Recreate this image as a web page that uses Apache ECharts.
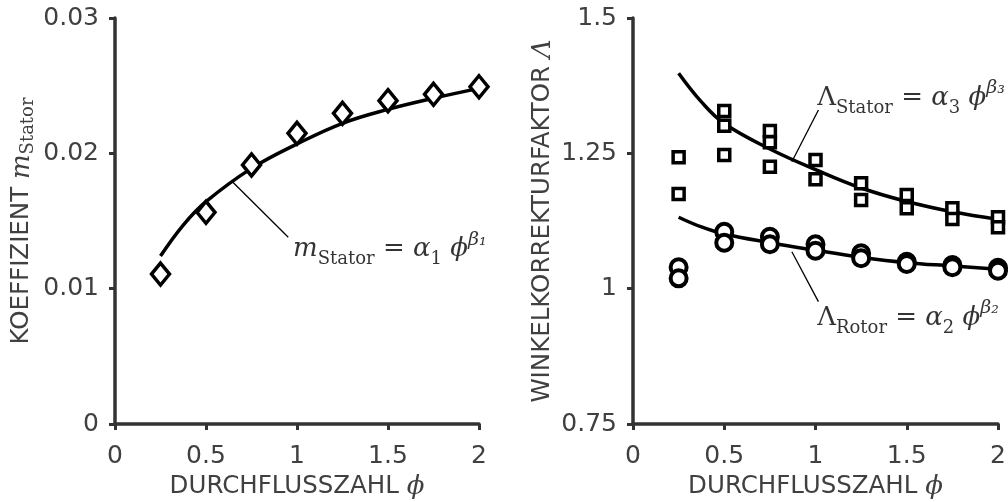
<!DOCTYPE html>
<html>
<head>
<meta charset="utf-8">
<script src="https://cdn.jsdelivr.net/npm/echarts@6/dist/echarts.min.js"></script>
<style>
  html, body { margin: 0; padding: 0; background: #fff; }
  #chart { width: 1008px; height: 502px; }
</style>
</head>
<body>
<div id="chart"></div>
<script>
  // Durchflusszahl (x values)
  const phi = [0.25, 0.5, 0.75, 1, 1.25, 1.5, 1.75, 2]
  const fitPhi = [0.25, 0.375, 0.5, 0.75, 1, 1.25, 1.5, 1.75, 2]

  // left: Koeffizient m_Stator
  const mStator = [0.01108, 0.01564, 0.01914, 0.02148, 0.02296, 0.02389, 0.02436, 0.02492]
  const mStatorFit = [0.01241, 0.0147, 0.01643, 0.01889, 0.02069, 0.02222, 0.02325, 0.02407, 0.0248]

  // right: Winkelkorrekturfaktor
  const statorPhi = [0.25, 0.25, 0.5, 0.5, 0.5, 0.75, 0.75, 0.75, 1, 1, 1.25, 1.25, 1.5, 1.5, 1.75, 1.75, 2, 2]
  const lambdaStator = [1.2427, 1.1749, 1.3282, 1.301, 1.2469, 1.2913, 1.2704, 1.2253, 1.2377, 1.202,
    1.1946, 1.1638, 1.173, 1.1485, 1.1485, 1.1287, 1.1318, 1.1134]
  const rotorPhi = [0.25, 0.25, 0.5, 0.5, 0.75, 0.75, 1, 1, 1.25, 1.25, 1.5, 1.5, 1.75, 1.75, 2, 2]
  const lambdaRotor = [1.0395, 1.0191, 1.1052, 1.0849, 1.096, 1.082, 1.082, 1.0701,
    1.0653, 1.0561, 1.0498, 1.0456, 1.0437, 1.0395, 1.0387, 1.0332]
  const lambdaStatorFit = [1.398, 1.345, 1.305, 1.258, 1.220, 1.186, 1.161, 1.142, 1.128]
  const lambdaRotorFit = [1.132, 1.114, 1.101, 1.085, 1.071, 1.058, 1.048, 1.042, 1.036]

  // annotations (data coords): leader lines and label anchors
  const leaderM = [[0.645, 0.0179], [0.952, 0.0138]]
  const leaderStator = [[0.8705, 1.2345], [1.016, 1.330]]
  const leaderRotor = [[0.8705, 1.0683], [1.016, 0.976]]
  const labelM = [0.978, 0.0129]
  const labelStator = [1.009, 1.3522]
  const labelRotor = [1.009, 0.9458]

  const xTicks = { min: 0, max: 2, interval: 0.5 }
  const yLeft = { min: 0, max: 0.03, interval: 0.01 }
  const yRight = { min: 0.75, max: 1.5, interval: 0.25 }

  const sans = 'DejaVu Sans'
  const serif = 'DejaVu Serif'
  const textColor = '#404040'
  const axisColor = '#333'

  const pairs = (xs, ys) => xs.map((x, i) => [x, ys[i]])

  const eqRich = {
    a: { fontFamily: serif, fontStyle: 'italic', fontSize: 26, lineHeight: 38, verticalAlign: 'middle', color: '#000' },
    u: { fontFamily: serif, fontSize: 26, lineHeight: 38, verticalAlign: 'middle', color: '#000' },
    s: { fontFamily: serif, fontSize: 18, lineHeight: 18, verticalAlign: 'bottom', color: '#000' },
    p: { fontFamily: serif, fontStyle: 'italic', fontSize: 19, lineHeight: 20, verticalAlign: 'top', color: '#000' }
  }

  const xAxisBase = (idx) => ({
    type: 'value', gridIndex: idx, min: xTicks.min, max: xTicks.max, interval: xTicks.interval,
    name: 'DURCHFLUSSZAHL {f|ϕ}', nameLocation: 'middle', nameGap: 47,
    nameTextStyle: { fontFamily: sans, fontSize: 24.5, color: textColor,
      rich: { f: { fontFamily: serif, fontStyle: 'italic', fontSize: 26, color: textColor } } },
    axisLine: { onZero: false, lineStyle: { color: axisColor, width: 3.5 } },
    axisTick: { show: true, length: 6, inside: false, lineStyle: { color: axisColor, width: 3 } },
    axisLabel: { fontFamily: sans, fontSize: 25, color: textColor, margin: 20 },
    splitLine: { show: false }
  })

  const yAxisBase = (idx, r) => ({
    type: 'value', gridIndex: idx, min: r.min, max: r.max, interval: r.interval,
    nameLocation: 'middle', nameRotate: 90,
    axisLine: { show: true, onZero: false, lineStyle: { color: axisColor, width: 3.5 } },
    axisTick: { show: true, length: 6, inside: false, lineStyle: { color: axisColor, width: 3 } },
    axisLabel: { fontFamily: sans, fontSize: 25, color: textColor, margin: 16 },
    splitLine: { show: false }
  })

  const yA = yAxisBase(0, yLeft)
  yA.name = 'KOEFFIZIENT {m|m}{s|Stator}'
  yA.nameGap = 78
  yA.nameTextStyle = { fontFamily: sans, fontSize: 24.5, color: textColor,
    rich: {
      m: { fontFamily: serif, fontStyle: 'italic', fontSize: 26, lineHeight: 30, verticalAlign: 'middle', color: textColor },
      s: { fontFamily: serif, fontSize: 18, lineHeight: 18, verticalAlign: 'bottom', color: textColor }
    } }

  const yB = yAxisBase(1, yRight)
  yB.name = 'WINKELKORREKTURFAKTOR {l|Λ}'
  yB.nameGap = 77
  yB.nameTextStyle = { fontFamily: sans, fontSize: 24.5, color: textColor,
    rich: { l: { fontFamily: serif, fontStyle: 'italic', fontSize: 26, color: textColor } } }

  const fitLine = (idx, ys) => ({
    type: 'line', xAxisIndex: idx, yAxisIndex: idx, data: pairs(fitPhi, ys),
    smooth: 0.4, showSymbol: false, symbol: 'none', clip: false, z: 2,
    lineStyle: { color: '#000', width: 3.5 }
  })

  const leader = (idx, pts) => ({
    type: 'line', xAxisIndex: idx, yAxisIndex: idx, data: pts,
    showSymbol: false, symbol: 'none', clip: false, z: 2,
    lineStyle: { color: '#000', width: 1.3 }
  })

  const eqLabel = (idx, pos, text) => ({
    type: 'scatter', xAxisIndex: idx, yAxisIndex: idx, symbolSize: 0, z: 5,
    data: [pos],
    label: { show: true, position: 'right', distance: 0, formatter: text, rich: eqRich }
  })

  const marks = (idx, data, symbol, size, bw) => ({
    type: 'scatter', xAxisIndex: idx, yAxisIndex: idx, data: data,
    symbol: symbol, symbolSize: size, clip: false, z: 4,
    itemStyle: { color: '#fff', borderColor: '#000', borderWidth: bw, opacity: 1 }
  })

  const chart = echarts.init(document.getElementById('chart'), null, { renderer: 'canvas' })
  chart.setOption({
    backgroundColor: '#fff',
    animation: false,
    grid: [
      { left: 115, top: 18, width: 364, height: 406, containLabel: false, outerBoundsMode: 'none' },
      { left: 633, top: 18, width: 365, height: 406, containLabel: false, outerBoundsMode: 'none' }
    ],
    xAxis: [xAxisBase(0), xAxisBase(1)],
    yAxis: [yA, yB],
    series: [
      fitLine(0, mStatorFit),
      leader(0, leaderM),
      marks(0, pairs(phi, mStator), 'diamond', [18, 22], 3.5),
      eqLabel(0, labelM, '{a|m}{s|Stator}{u| = }{a|α}{s|1}{u| }{a|ϕ}{p|β₁}'),

      fitLine(1, lambdaStatorFit),
      fitLine(1, lambdaRotorFit),
      leader(1, leaderStator),
      leader(1, leaderRotor),
      marks(1, pairs(statorPhi, lambdaStator), 'rect', 11, 3.5),
      marks(1, pairs(rotorPhi, lambdaRotor), 'circle', 16, 4),
      eqLabel(1, labelStator, '{u|Λ}{s|Stator}{u| = }{a|α}{s|3}{u| }{a|ϕ}{p|β₃}'),
      eqLabel(1, labelRotor, '{u|Λ}{s|Rotor}{u| = }{a|α}{s|2}{u| }{a|ϕ}{p|β₂}')
    ]
  })
</script>
</body>
</html>
